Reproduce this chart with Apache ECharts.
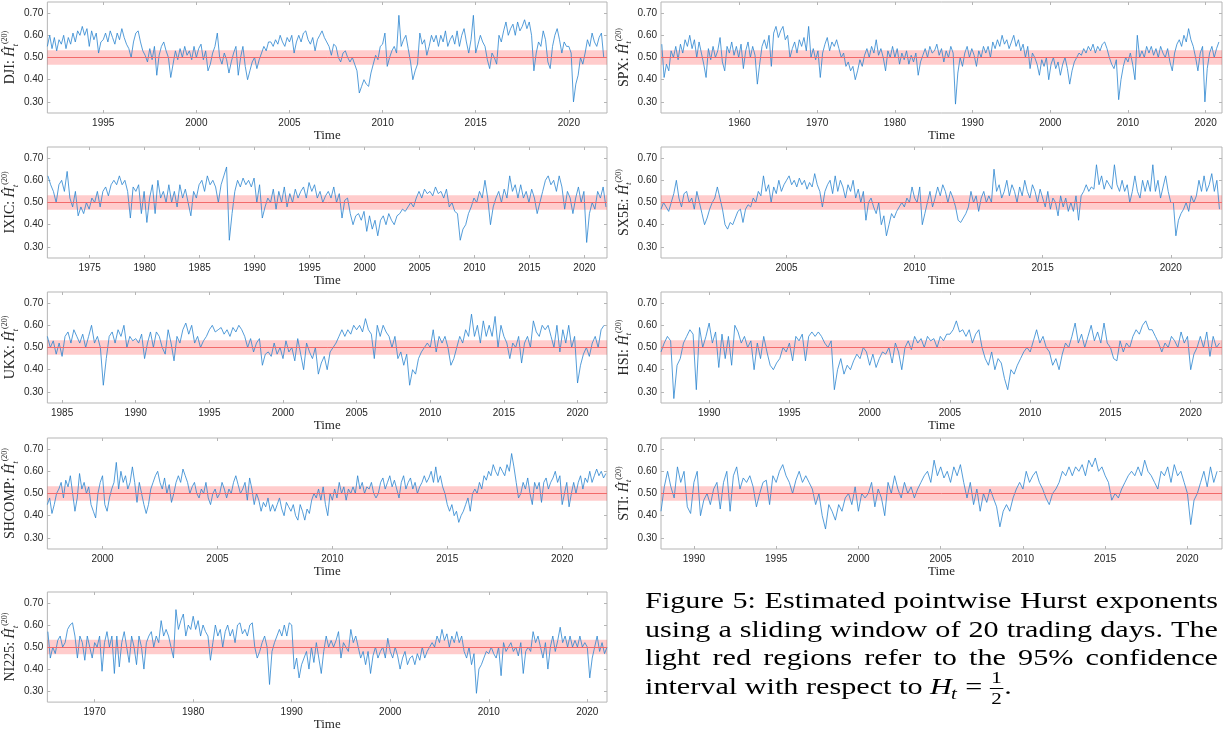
<!DOCTYPE html>
<html>
<head>
<meta charset="utf-8">
<title>Pointwise Hurst exponents</title>
<script src="https://cdn.jsdelivr.net/npm/echarts@6/dist/echarts.min.js"></script>
<style>
  html, body { margin: 0; padding: 0; background: #fff; }
  #main { width: 1228px; height: 732px; }
</style>
</head>
<body>
<div id="main"></div>
<script>
// values, one array per index (start year + step between samples)
const djiStart = 1992.0, djiStep = 0.125;
const djiValues = [
  0.55, 0.60, 0.54, 0.59, 0.53, 0.58, 0.56, 0.60,
  0.54, 0.59, 0.56, 0.61, 0.57, 0.62, 0.60, 0.64,
  0.60, 0.63, 0.55, 0.62, 0.58, 0.61, 0.52, 0.57,
  0.58, 0.61, 0.57, 0.62, 0.59, 0.56, 0.61, 0.58,
  0.63, 0.59, 0.56, 0.54, 0.50, 0.57, 0.61, 0.62,
  0.57, 0.53, 0.51, 0.48, 0.54, 0.49, 0.55, 0.42,
  0.51, 0.55, 0.57, 0.53, 0.50, 0.41, 0.47, 0.53,
  0.49, 0.54, 0.50, 0.55, 0.51, 0.53, 0.49, 0.55,
  0.50, 0.54, 0.56, 0.49, 0.53, 0.44, 0.47, 0.52,
  0.55, 0.61, 0.50, 0.47, 0.52, 0.49, 0.43, 0.48,
  0.52, 0.55, 0.42, 0.50, 0.55, 0.46, 0.40, 0.44,
  0.48, 0.50, 0.45, 0.49, 0.52, 0.55, 0.53, 0.57,
  0.57, 0.55, 0.58, 0.56, 0.60, 0.57, 0.55, 0.59,
  0.57, 0.60, 0.52, 0.57, 0.60, 0.57, 0.61, 0.62,
  0.58, 0.56, 0.59, 0.53, 0.58, 0.60, 0.62, 0.59,
  0.57, 0.55, 0.51, 0.56, 0.55, 0.50, 0.48, 0.52,
  0.53, 0.50, 0.48, 0.50, 0.47, 0.44, 0.34, 0.37,
  0.40, 0.38, 0.37, 0.43, 0.47, 0.51, 0.49, 0.55,
  0.56, 0.61, 0.46, 0.50, 0.53, 0.55, 0.52, 0.69,
  0.55, 0.58, 0.60, 0.54, 0.48, 0.40, 0.44, 0.47,
  0.61, 0.56, 0.58, 0.51, 0.55, 0.60, 0.57, 0.60,
  0.55, 0.60, 0.57, 0.62, 0.55, 0.58, 0.60, 0.56,
  0.62, 0.55, 0.60, 0.63, 0.57, 0.52, 0.58, 0.69,
  0.52, 0.56, 0.60, 0.57, 0.55, 0.49, 0.45, 0.52,
  0.50, 0.47, 0.60, 0.57, 0.62, 0.66, 0.60, 0.63,
  0.65, 0.60, 0.66, 0.62, 0.64, 0.67, 0.63, 0.66,
  0.60, 0.44, 0.52, 0.57, 0.55, 0.62, 0.58, 0.48,
  0.45, 0.55, 0.60, 0.63, 0.58, 0.52, 0.57, 0.55,
  0.55, 0.52, 0.30, 0.38, 0.42, 0.50, 0.47, 0.52,
  0.58, 0.55, 0.61, 0.57, 0.55, 0.59, 0.61, 0.50
];

const spxStart = 1950.0, spxStep = 0.3;
const spxValues = [
  0.56, 0.41, 0.47, 0.44, 0.53, 0.50, 0.55, 0.49, 0.56, 0.52,
  0.58, 0.55, 0.60, 0.54, 0.58, 0.50, 0.57, 0.52, 0.47, 0.41,
  0.54, 0.49, 0.55, 0.50, 0.53, 0.59, 0.48, 0.44, 0.55, 0.52,
  0.57, 0.51, 0.55, 0.50, 0.56, 0.45, 0.53, 0.57, 0.50, 0.55,
  0.51, 0.38, 0.47, 0.55, 0.58, 0.54, 0.60, 0.46, 0.61, 0.64,
  0.59, 0.62, 0.64, 0.58, 0.60, 0.50, 0.54, 0.57, 0.52, 0.58,
  0.55, 0.59, 0.53, 0.64, 0.50, 0.54, 0.49, 0.53, 0.41, 0.52,
  0.56, 0.59, 0.53, 0.57, 0.55, 0.58, 0.54, 0.50, 0.52, 0.46,
  0.48, 0.44, 0.46, 0.40, 0.44, 0.49, 0.46, 0.51, 0.54, 0.50,
  0.55, 0.52, 0.58, 0.51, 0.54, 0.50, 0.44, 0.53, 0.50, 0.55,
  0.50, 0.54, 0.47, 0.52, 0.49, 0.53, 0.47, 0.51, 0.48, 0.52,
  0.42, 0.48, 0.51, 0.54, 0.50, 0.55, 0.52, 0.53, 0.56, 0.51,
  0.54, 0.48, 0.53, 0.50, 0.55, 0.52, 0.29, 0.43, 0.50, 0.46,
  0.52, 0.55, 0.50, 0.54, 0.51, 0.46, 0.53, 0.50, 0.55, 0.52,
  0.55, 0.50, 0.57, 0.54, 0.58, 0.55, 0.60, 0.56, 0.58, 0.54,
  0.57, 0.60, 0.55, 0.58, 0.53, 0.56, 0.50, 0.55, 0.45, 0.52,
  0.50, 0.47, 0.42, 0.49, 0.46, 0.50, 0.40, 0.47, 0.50, 0.45,
  0.48, 0.42, 0.47, 0.50, 0.45, 0.38, 0.44, 0.48, 0.50, 0.52,
  0.51, 0.54, 0.52, 0.55, 0.53, 0.56, 0.52, 0.55, 0.53, 0.56,
  0.57, 0.54, 0.50, 0.47, 0.45, 0.49, 0.31, 0.40, 0.46, 0.50,
  0.48, 0.52, 0.47, 0.40, 0.60, 0.50, 0.53, 0.50, 0.55, 0.52,
  0.55, 0.51, 0.54, 0.50, 0.55, 0.52, 0.50, 0.54, 0.48, 0.44,
  0.52, 0.56, 0.58, 0.55, 0.60, 0.57, 0.63, 0.58, 0.55, 0.50,
  0.44, 0.52, 0.55, 0.30, 0.45, 0.52, 0.55, 0.50, 0.54, 0.57
];

const ixicStart = 1971.2, ixicStep = 0.25;
const ixicValues = [
  0.62, 0.58, 0.55, 0.50,  0.58, 0.60, 0.55, 0.64,  0.52, 0.48, 0.55, 0.44,
  0.48, 0.45, 0.50, 0.47,  0.52, 0.50, 0.55, 0.48,  0.55, 0.57, 0.53, 0.58,
  0.60, 0.58, 0.62, 0.58,  0.60, 0.55, 0.43, 0.57,  0.55, 0.58, 0.45, 0.55,
  0.41, 0.52, 0.58, 0.45,  0.60, 0.52, 0.55, 0.50,  0.58, 0.50, 0.55, 0.48,
  0.58, 0.52, 0.56, 0.50,  0.44, 0.55, 0.52, 0.58,  0.60, 0.55, 0.62, 0.58,
  0.60, 0.57, 0.50, 0.58,  0.62, 0.66, 0.33, 0.45,  0.55, 0.60, 0.57, 0.61,
  0.58, 0.60, 0.57, 0.61,  0.50, 0.58, 0.43, 0.48,  0.52, 0.50, 0.56, 0.47,
  0.55, 0.50, 0.57, 0.48,  0.54, 0.50, 0.56, 0.52,  0.55, 0.57, 0.52, 0.59,
  0.55, 0.58, 0.52, 0.55,  0.50, 0.53, 0.55, 0.52,  0.57, 0.50, 0.54, 0.43,
  0.51, 0.52, 0.45, 0.40,  0.44, 0.45, 0.42, 0.46,  0.37, 0.44, 0.38, 0.42,
  0.35, 0.42, 0.44, 0.40,  0.45, 0.42, 0.40, 0.44,  0.45, 0.47, 0.46, 0.48,
  0.50, 0.48, 0.52, 0.55,  0.52, 0.56, 0.54, 0.55,  0.53, 0.57, 0.54, 0.55,
  0.52, 0.56, 0.48, 0.50,  0.46, 0.45, 0.33, 0.38,  0.40, 0.45, 0.48, 0.52,
  0.50, 0.55, 0.52, 0.60,  0.52, 0.40, 0.48, 0.52,  0.55, 0.50, 0.56, 0.52,
  0.62, 0.55, 0.58, 0.52,  0.58, 0.52, 0.55, 0.50,  0.56, 0.52, 0.45, 0.50,
  0.55, 0.60, 0.62, 0.58,  0.60, 0.55, 0.62, 0.57,  0.47, 0.55, 0.52, 0.45,
  0.52, 0.57, 0.50, 0.55,  0.32, 0.45, 0.50, 0.47,  0.55, 0.52, 0.57, 0.48
];

const sx5eStart = 2000.1, sx5eStep = 0.1;
const sx5eValues = [
  0.47, 0.50, 0.48, 0.46, 0.50, 0.54, 0.60, 0.52, 0.48, 0.54,
  0.55, 0.50, 0.52, 0.47, 0.55, 0.50, 0.45, 0.40, 0.43, 0.47,
  0.50, 0.52, 0.57, 0.52, 0.47, 0.40, 0.38, 0.41, 0.40, 0.43,
  0.46, 0.47, 0.41, 0.47, 0.49, 0.48, 0.52, 0.50, 0.55, 0.53,
  0.62, 0.55, 0.58, 0.50, 0.57, 0.54, 0.60, 0.55, 0.58, 0.60,
  0.62, 0.58, 0.60, 0.57, 0.61, 0.58, 0.60, 0.56, 0.59, 0.57,
  0.63, 0.58, 0.55, 0.48, 0.55, 0.58, 0.60, 0.54, 0.62, 0.55,
  0.60, 0.57, 0.52, 0.58, 0.55, 0.60, 0.52, 0.56, 0.50, 0.55,
  0.42, 0.50, 0.52, 0.48, 0.45, 0.50, 0.40, 0.44, 0.35, 0.40,
  0.45, 0.43, 0.46, 0.48, 0.50, 0.48, 0.52, 0.50, 0.57, 0.52,
  0.50, 0.57, 0.40, 0.45, 0.50, 0.55, 0.48, 0.52, 0.57, 0.53,
  0.58, 0.55, 0.50, 0.55, 0.52, 0.48, 0.42, 0.41, 0.43, 0.45,
  0.48, 0.55, 0.50, 0.53, 0.46, 0.52, 0.55, 0.50, 0.53, 0.50,
  0.65, 0.55, 0.58, 0.52, 0.55, 0.60, 0.53, 0.58, 0.55, 0.50,
  0.57, 0.53, 0.60, 0.55, 0.52, 0.58, 0.55, 0.50, 0.56, 0.52,
  0.48, 0.55, 0.47, 0.52, 0.50, 0.44, 0.53, 0.48, 0.52, 0.46,
  0.50, 0.46, 0.53, 0.42, 0.53, 0.55, 0.58, 0.55, 0.57, 0.56,
  0.67, 0.58, 0.62, 0.56, 0.60, 0.58, 0.56, 0.67, 0.58, 0.55,
  0.60, 0.55, 0.58, 0.50, 0.55, 0.62, 0.55, 0.52, 0.60, 0.55,
  0.60, 0.55, 0.67, 0.55, 0.60, 0.52, 0.57, 0.62, 0.55, 0.50,
  0.50, 0.35, 0.42, 0.45, 0.47, 0.50, 0.46, 0.53, 0.50, 0.53,
  0.60, 0.55, 0.62, 0.55, 0.58, 0.63, 0.55, 0.60, 0.47
];

const ukxStart = 1984.0, ukxStep = 0.2;
const ukxValues = [
  0.55, 0.50, 0.53, 0.47, 0.52,  0.46, 0.55, 0.57, 0.52, 0.58,
  0.55, 0.52, 0.56, 0.50, 0.55,  0.60, 0.52, 0.55, 0.50, 0.33,
  0.45, 0.55, 0.57, 0.52, 0.58,  0.55, 0.60, 0.50, 0.55, 0.53,
  0.54, 0.52, 0.56, 0.45, 0.52,  0.57, 0.50, 0.57, 0.55, 0.50,
  0.47, 0.58, 0.52, 0.44, 0.55,  0.52, 0.58, 0.61, 0.56, 0.60,
  0.52, 0.55, 0.50, 0.53, 0.55,  0.58, 0.60, 0.57, 0.58, 0.59,
  0.56, 0.58, 0.55, 0.59, 0.57,  0.60, 0.58, 0.55, 0.50, 0.54,
  0.48, 0.52, 0.54, 0.42, 0.47,  0.48, 0.46, 0.52, 0.47, 0.50,
  0.45, 0.53, 0.48, 0.50, 0.44,  0.54, 0.47, 0.40, 0.52, 0.48,
  0.45, 0.50, 0.38, 0.43, 0.46,  0.40, 0.48, 0.50, 0.52, 0.55,
  0.58, 0.55, 0.58, 0.56, 0.60,  0.58, 0.60, 0.57, 0.63, 0.58,
  0.56, 0.45, 0.60, 0.55, 0.60,  0.57, 0.55, 0.50, 0.55, 0.45,
  0.48, 0.42, 0.47, 0.33, 0.40,  0.38, 0.45, 0.48, 0.50, 0.52,
  0.50, 0.58, 0.48, 0.55, 0.52,  0.55, 0.50, 0.42, 0.45, 0.50,
  0.55, 0.52, 0.58, 0.55, 0.65,  0.55, 0.60, 0.52, 0.62, 0.55,
  0.60, 0.55, 0.64, 0.50, 0.60,  0.55, 0.52, 0.45, 0.52, 0.50,
  0.55, 0.43, 0.52, 0.55, 0.50,  0.62, 0.57, 0.55, 0.60, 0.58,
  0.60, 0.55, 0.50, 0.60, 0.48,  0.58, 0.52, 0.60, 0.50, 0.55,
  0.34, 0.42, 0.47, 0.50, 0.46,  0.52, 0.55, 0.50, 0.58, 0.60
];

const hsiStart = 1987.0, hsiStep = 0.2;
const hsiValues = [
  0.48, 0.52, 0.55, 0.53, 0.27,  0.42, 0.45, 0.52, 0.55, 0.58,
  0.56, 0.31, 0.59, 0.50, 0.55,  0.61, 0.52, 0.57, 0.41, 0.56,
  0.45, 0.55, 0.42, 0.60, 0.57,  0.52, 0.55, 0.50, 0.53, 0.40,
  0.52, 0.45, 0.55, 0.48, 0.42,  0.40, 0.43, 0.45, 0.50, 0.48,
  0.52, 0.44, 0.55, 0.53, 0.56,  0.44, 0.55, 0.57, 0.55, 0.57,
  0.55, 0.52, 0.50, 0.53, 0.31,  0.40, 0.45, 0.38, 0.42, 0.40,
  0.44, 0.47, 0.45, 0.50, 0.48,  0.42, 0.47, 0.41, 0.45, 0.48,
  0.47, 0.50, 0.43, 0.52, 0.48,  0.40, 0.50, 0.53, 0.49, 0.55,
  0.52, 0.54, 0.50, 0.55, 0.53,  0.54, 0.50, 0.55, 0.53, 0.56,
  0.56, 0.58, 0.62, 0.57, 0.58,  0.55, 0.58, 0.52, 0.56, 0.58,
  0.50, 0.45, 0.42, 0.48, 0.40,  0.45, 0.43, 0.36, 0.31, 0.40,
  0.38, 0.42, 0.45, 0.48, 0.50,  0.48, 0.53, 0.58, 0.52, 0.55,
  0.50, 0.48, 0.42, 0.45, 0.40,  0.47, 0.52, 0.50, 0.55, 0.61,
  0.52, 0.56, 0.50, 0.55, 0.60,  0.53, 0.57, 0.52, 0.61, 0.52,
  0.50, 0.45, 0.44, 0.53, 0.48,  0.52, 0.50, 0.55, 0.58, 0.56,
  0.60, 0.62, 0.58, 0.58, 0.55,  0.52, 0.48, 0.52, 0.50, 0.55,
  0.53, 0.50, 0.57, 0.52, 0.55,  0.40, 0.47, 0.50, 0.55, 0.50,
  0.57, 0.46, 0.55, 0.50, 0.52
];

const shcompStart = 1997.6, shcompStep = 0.1;
const shcompValues = [
  0.45, 0.48, 0.41, 0.45, 0.50, 0.52, 0.55, 0.48, 0.56, 0.53,
  0.58, 0.50, 0.42, 0.48, 0.59, 0.52, 0.55, 0.50, 0.53, 0.45,
  0.42, 0.39, 0.50, 0.55, 0.58, 0.45, 0.42, 0.48, 0.52, 0.55,
  0.64, 0.52, 0.60, 0.55, 0.58, 0.52, 0.55, 0.62, 0.55, 0.46,
  0.55, 0.50, 0.45, 0.41, 0.45, 0.52, 0.55, 0.58, 0.60, 0.55,
  0.52, 0.57, 0.50, 0.54, 0.46, 0.50, 0.55, 0.58, 0.55, 0.61,
  0.58, 0.55, 0.50, 0.53, 0.55, 0.50, 0.48, 0.52, 0.50, 0.55,
  0.48, 0.45, 0.50, 0.52, 0.48, 0.50, 0.55, 0.52, 0.48, 0.52,
  0.50, 0.55, 0.58, 0.54, 0.50, 0.52, 0.55, 0.47, 0.57, 0.52,
  0.45, 0.50, 0.47, 0.42, 0.46, 0.44, 0.48, 0.42, 0.45, 0.42,
  0.45, 0.48, 0.43, 0.40, 0.46, 0.44, 0.42, 0.45, 0.40, 0.38,
  0.45, 0.42, 0.38, 0.43, 0.41, 0.47, 0.50, 0.48, 0.52, 0.47,
  0.53, 0.45, 0.40, 0.50, 0.47, 0.52, 0.48, 0.55, 0.50, 0.53,
  0.47, 0.52, 0.50, 0.53, 0.50, 0.58, 0.52, 0.55, 0.50, 0.53,
  0.52, 0.55, 0.50, 0.48, 0.50, 0.55, 0.57, 0.52, 0.55, 0.58,
  0.53, 0.56, 0.52, 0.48, 0.55, 0.58, 0.52, 0.55, 0.57, 0.52,
  0.55, 0.50, 0.53, 0.55, 0.58, 0.55, 0.57, 0.60, 0.55, 0.62,
  0.55, 0.58, 0.53, 0.50, 0.45, 0.42, 0.45, 0.40, 0.42, 0.37,
  0.40, 0.42, 0.45, 0.48, 0.42, 0.50, 0.52, 0.50, 0.55, 0.52,
  0.58, 0.56, 0.60, 0.58, 0.63, 0.60, 0.58, 0.62, 0.60, 0.58,
  0.63, 0.60, 0.68, 0.62, 0.55, 0.48, 0.50, 0.55, 0.52, 0.57,
  0.50, 0.45, 0.55, 0.52, 0.55, 0.46, 0.55, 0.57, 0.52, 0.55,
  0.57, 0.60, 0.55, 0.58, 0.45, 0.50, 0.55, 0.44, 0.50, 0.55,
  0.50, 0.55, 0.58, 0.52, 0.57, 0.55, 0.60, 0.55, 0.58, 0.61,
  0.58, 0.60, 0.57, 0.59
];

const stiStart = 1988.0, stiStep = 0.2;
const stiValues = [
  0.42, 0.53, 0.60, 0.53, 0.48,  0.62, 0.55, 0.60, 0.44, 0.41,
  0.55, 0.60, 0.40, 0.47, 0.50,  0.45, 0.52, 0.55, 0.43, 0.55,
  0.60, 0.42, 0.58, 0.62, 0.52,  0.57, 0.55, 0.58, 0.53, 0.44,
  0.50, 0.55, 0.56, 0.45, 0.58,  0.55, 0.60, 0.63, 0.58, 0.55,
  0.50, 0.56, 0.60, 0.55, 0.58,  0.55, 0.52, 0.45, 0.50, 0.40,
  0.34, 0.45, 0.42, 0.38, 0.45,  0.42, 0.48, 0.50, 0.45, 0.53,
  0.42, 0.50, 0.48, 0.50, 0.55,  0.44, 0.52, 0.48, 0.40, 0.55,
  0.50, 0.58, 0.52, 0.48, 0.55,  0.50, 0.53, 0.48, 0.52, 0.55,
  0.58, 0.60, 0.55, 0.65, 0.58,  0.62, 0.57, 0.60, 0.55, 0.62,
  0.58, 0.63, 0.55, 0.48, 0.55,  0.45, 0.52, 0.42, 0.50, 0.46,
  0.52, 0.48, 0.44, 0.35, 0.42,  0.45, 0.42, 0.48, 0.52, 0.55,
  0.52, 0.60, 0.55, 0.58, 0.60,  0.55, 0.52, 0.48, 0.45, 0.50,
  0.52, 0.55, 0.60, 0.58, 0.62,  0.58, 0.62, 0.60, 0.63, 0.58,
  0.65, 0.62, 0.66, 0.60, 0.62,  0.58, 0.55, 0.47, 0.50, 0.48,
  0.52, 0.55, 0.58, 0.60, 0.58,  0.62, 0.58, 0.65, 0.60, 0.58,
  0.55, 0.52, 0.60, 0.58, 0.62,  0.55, 0.63, 0.58, 0.60, 0.55,
  0.50, 0.36, 0.47, 0.50, 0.55,  0.60, 0.53, 0.62, 0.55, 0.60
];

const ni225Start = 1965.25, ni225Step = 0.25;
const ni225Values = [
  0.57, 0.45, 0.50, 0.47,  0.53, 0.55, 0.50, 0.52,  0.58, 0.60, 0.61, 0.55,
  0.45, 0.55, 0.52, 0.44,  0.55, 0.50, 0.45, 0.52,  0.50, 0.55, 0.39, 0.52,
  0.57, 0.50, 0.55, 0.38,  0.55, 0.41, 0.52, 0.57,  0.50, 0.43, 0.55, 0.50,
  0.42, 0.55, 0.50, 0.40,  0.52, 0.55, 0.57, 0.50,  0.55, 0.52, 0.62, 0.55,
  0.58, 0.55, 0.50, 0.45,  0.67, 0.58, 0.62, 0.65,  0.55, 0.60, 0.58, 0.64,
  0.58, 0.62, 0.55, 0.60,  0.57, 0.55, 0.44, 0.52,  0.60, 0.55, 0.58, 0.50,
  0.57, 0.60, 0.55, 0.58,  0.52, 0.60, 0.61, 0.56,  0.58, 0.55, 0.60, 0.61,
  0.50, 0.45, 0.48, 0.52,  0.55, 0.50, 0.33, 0.48,  0.52, 0.55, 0.58, 0.55,
  0.60, 0.55, 0.61, 0.60,  0.40, 0.45, 0.36, 0.42,  0.45, 0.48, 0.40, 0.50,
  0.43, 0.52, 0.45, 0.38,  0.48, 0.55, 0.50, 0.53,  0.50, 0.53, 0.57, 0.45,
  0.52, 0.50, 0.48, 0.58,  0.52, 0.55, 0.50, 0.45,  0.48, 0.42, 0.48, 0.38,
  0.46, 0.50, 0.45, 0.48,  0.50, 0.45, 0.54, 0.48,  0.45, 0.50, 0.46, 0.40,
  0.45, 0.48, 0.42, 0.45,  0.46, 0.42, 0.47, 0.44,  0.50, 0.45, 0.48, 0.50,
  0.52, 0.50, 0.55, 0.52,  0.58, 0.53, 0.56, 0.50,  0.55, 0.52, 0.57, 0.52,
  0.55, 0.48, 0.45, 0.50,  0.42, 0.47, 0.29, 0.40,  0.42, 0.45, 0.48, 0.47,
  0.50, 0.47, 0.45, 0.50,  0.37, 0.52, 0.48, 0.50,  0.52, 0.48, 0.50, 0.46,
  0.52, 0.38, 0.48, 0.50,  0.48, 0.57, 0.52, 0.55,  0.50, 0.45, 0.52, 0.40,
  0.50, 0.55, 0.48, 0.53,  0.59, 0.52, 0.55, 0.50,  0.55, 0.50, 0.53, 0.50,
  0.55, 0.50, 0.52, 0.50,  0.36, 0.45, 0.50, 0.55,  0.48, 0.52, 0.47, 0.50
];

// 95% confidence band around H = 1/2
const bandLow = 0.467, bandHigh = 0.533, bandMid = 0.5;
const yTicks = [0.3, 0.4, 0.5, 0.6, 0.7];

const panels = [
  { name: 'DJI', start: djiStart, step: djiStep, values: djiValues, min: 1992.0, max: 2022.05, ticks: [1995, 2000, 2005, 2010, 2015, 2020], row: 0, col: 0 },
  { name: 'SPX', start: spxStart, step: spxStep, values: spxValues, min: 1949.9, max: 2022.1, ticks: [1960, 1970, 1980, 1990, 2000, 2010, 2020], row: 0, col: 1 },
  { name: 'IXIC', start: ixicStart, step: ixicStep, values: ixicValues, min: 1971.15, max: 2022.05, ticks: [1975, 1980, 1985, 1990, 1995, 2000, 2005, 2010, 2015, 2020], row: 1, col: 0 },
  { name: 'SX5E', start: sx5eStart, step: sx5eStep, values: sx5eValues, min: 2000.1, max: 2022.0, ticks: [2005, 2010, 2015, 2020], row: 1, col: 1 },
  { name: 'UKX', start: ukxStart, step: ukxStep, values: ukxValues, min: 1984.0, max: 2022.0, ticks: [1985, 1990, 1995, 2000, 2005, 2010, 2015, 2020], row: 2, col: 0 },
  { name: 'HSI', start: hsiStart, step: hsiStep, values: hsiValues, min: 1987.0, max: 2021.95, ticks: [1990, 1995, 2000, 2005, 2010, 2015, 2020], row: 2, col: 1 },
  { name: 'SHCOMP', start: shcompStart, step: shcompStep, values: shcompValues, min: 1997.6, max: 2021.95, ticks: [2000, 2005, 2010, 2015, 2020], row: 3, col: 0 },
  { name: 'STI', start: stiStart, step: stiStep, values: stiValues, min: 1988.0, max: 2022.1, ticks: [1990, 1995, 2000, 2005, 2010, 2015, 2020], row: 3, col: 1 },
  { name: 'NI225', start: ni225Start, step: ni225Step, values: ni225Values, min: 1965.2, max: 2022.0, ticks: [1970, 1980, 1990, 2000, 2010, 2020], row: 4, col: 0 }
];

// layout
const colLeft = [46, 661];
const rowTop = [2, 147, 292, 438, 592];
const plotW = 561, plotH = 111;
const boxColor = '#b5b5b5';
const textColor = '#262626';
const serif = '"Liberation Serif", "Times New Roman", serif';
const sans = '"Liberation Sans", Arial, sans-serif';

const chart = echarts.init(document.getElementById('main'));

const grids = [], xAxes = [], yAxes = [], series = [];

panels.forEach((p, i) => {
  grids.push({
    left: colLeft[p.col], top: rowTop[p.row], width: plotW, height: plotH,
    show: true, borderColor: boxColor, borderWidth: 1, backgroundColor: 'transparent'
  });
  const tickStyle = { show: true, inside: true, length: 3, lineStyle: { color: boxColor, width: 1 } };
  xAxes.push({
    type: 'value', gridIndex: i, position: 'bottom', min: p.min, max: p.max,
    axisLine: { show: false }, splitLine: { show: false },
    axisTick: Object.assign({ customValues: p.ticks }, tickStyle),
    axisLabel: { customValues: p.ticks, formatter: v => String(v), color: textColor, fontFamily: sans, fontSize: 10, margin: 5 },
    name: 'Time', nameLocation: 'middle', nameGap: 15,
    nameTextStyle: { fontFamily: serif, fontSize: 13, color: textColor }
  });
  xAxes.push({
    type: 'value', gridIndex: i, position: 'top', min: p.min, max: p.max,
    axisLine: { show: false }, splitLine: { show: false },
    axisTick: Object.assign({ customValues: p.ticks }, tickStyle),
    axisLabel: { show: false }
  });
  yAxes.push({
    type: 'value', gridIndex: i, position: 'left', min: 0.25, max: 0.75,
    axisLine: { show: false }, splitLine: { show: false },
    axisTick: Object.assign({ customValues: yTicks }, tickStyle),
    axisLabel: { customValues: yTicks, formatter: v => v.toFixed(2), color: textColor, fontFamily: sans, fontSize: 10, margin: 4 },
    name: '{n|' + p.name + ': }{h|Ĥ}{t|t}{s|(20)}',
    nameLocation: 'middle', nameRotate: 90, nameGap: 25,
    nameTextStyle: {
      color: textColor, fontFamily: serif,
      rich: {
        n: { fontFamily: serif, fontSize: 14, lineHeight: 19, color: textColor },
        h: { fontFamily: serif, fontSize: 14, fontStyle: 'italic', lineHeight: 19, color: textColor },
        t: { fontFamily: serif, fontSize: 9, fontStyle: 'italic', lineHeight: 9, verticalAlign: 'bottom', color: textColor },
        s: { fontFamily: serif, fontSize: 8, lineHeight: 9, verticalAlign: 'top', color: textColor }
      }
    }
  });
  yAxes.push({
    type: 'value', gridIndex: i, position: 'right', min: 0.25, max: 0.75,
    axisLine: { show: false }, splitLine: { show: false },
    axisTick: Object.assign({ customValues: yTicks }, tickStyle),
    axisLabel: { show: false }
  });
  series.push({
    type: 'line', name: p.name, xAxisIndex: 2 * i, yAxisIndex: 2 * i,
    data: p.values.map((v, k) => [p.start + k * p.step, v]),
    showSymbol: false, symbol: 'none', animation: false, z: 2,
    lineStyle: { color: '#2a84cf', width: 0.8 }
  });
  series.push({
    type: 'line', name: p.name + ' band', xAxisIndex: 2 * i, yAxisIndex: 2 * i,
    data: [], animation: false, z: 5, silent: true,
    markArea: {
      silent: true,
      itemStyle: { color: 'rgba(255, 0, 0, 0.2)' },
      data: [[{ yAxis: bandLow }, { yAxis: bandHigh }]]
    },
    markLine: {
      silent: true, symbol: 'none', label: { show: false },
      lineStyle: { color: '#f26a6a', width: 1, type: 'solid' },
      data: [{ yAxis: bandMid }]
    }
  });
});

// caption, justified like the LaTeX paragraph (Times widened to the Computer Modern set width)
const captionLines = [
  'Figure 5: Estimated pointwise Hurst exponents',
  'using a sliding window of 20 trading days. The',
  'light red regions refer to the 95% confidence'
];
const captionLast = 'interval with respect to';
const capLeft = 645, capRight = 1218, capTop = 602, capLineGap = 28.5;
const capSize = 23;
const capFont = capSize + 'px ' + serif;
const measure = document.createElement('canvas').getContext('2d');
function textWidth(s, font) { measure.font = font; return measure.measureText(s).width; }
const capScale = (capRight - capLeft) / (textWidth(captionLines[0], capFont) + 4);

const graphic = [];
function capText(x, y, text, font, extra) {
  graphic.push({ type: 'text', x: x, y: y, scaleX: capScale,
    style: Object.assign({ text: text, font: font, fill: '#000', verticalAlign: 'middle' }, extra || {}) });
}
captionLines.forEach((line, li) => {
  const words = line.split(' ');
  const widths = words.map(w => textWidth(w, capFont) * capScale);
  const total = widths.reduce((a, b) => a + b, 0);
  const gap = (capRight - capLeft - total) / (words.length - 1);
  let x = capLeft;
  words.forEach((w, wi) => {
    capText(x, capTop + li * capLineGap, w, capFont);
    x += widths[wi] + gap;
  });
});
(function () {
  const y = capTop + 3 * capLineGap;
  const space = textWidth(' ', capFont) * capScale;
  let x = capLeft;
  capText(x, y, captionLast, capFont);
  x += textWidth(captionLast, capFont) * capScale + space;
  const itFont = 'italic ' + capFont;
  capText(x, y, 'H', itFont);
  x += textWidth('H', itFont) * capScale;
  const subFont = 'italic 16px ' + serif;
  capText(x - 1, y + 7, 't', subFont);
  x += textWidth('t', subFont) * capScale + space;
  capText(x, y, '=', capFont);
  x += textWidth('=', capFont) * capScale + space;
  const fracFont = '16px ' + serif;
  const fw = textWidth('2', fracFont) * capScale + 3;
  capText(x + fw / 2, y - 9, '1', fracFont, { align: 'center' });
  graphic.push({ type: 'line', shape: { x1: x, y1: y + 1, x2: x + fw, y2: y + 1 }, style: { stroke: '#000', lineWidth: 1 } });
  capText(x + fw / 2, y + 12, '2', fracFont, { align: 'center' });
  x += fw + 1;
  capText(x, y, '.', capFont);
})();

chart.setOption({
  animation: false,
  backgroundColor: '#ffffff',
  grid: grids,
  xAxis: xAxes,
  yAxis: yAxes,
  series: series,
  graphic: graphic
});
</script>
</body>
</html>
